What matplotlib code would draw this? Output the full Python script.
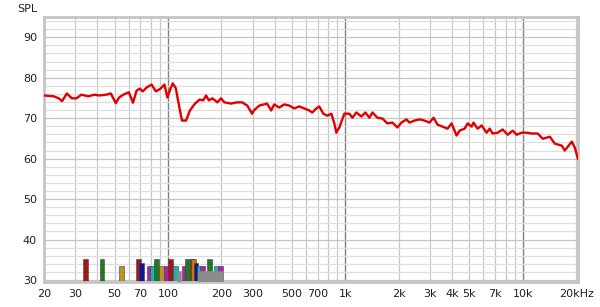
import numpy as np
import matplotlib
matplotlib.use('Agg')
import matplotlib.pyplot as plt
from matplotlib.ticker import FixedLocator, NullFormatter

# measured response (Hz, dB)
freq = [20, 22.7, 24.2, 25.3, 26.9, 28.7, 30.5, 32.5, 35.5, 38.5, 41, 45, 47.6,
        50.8, 53, 56, 60.2, 63.5, 66.5, 69.5, 72, 76, 80.8, 85.5, 90.8, 95.5,
        99.3, 103.6, 106.4, 110.7, 116.8, 120, 126.5, 133, 142, 151, 158, 164,
        170, 178, 190, 199, 208, 227, 244, 262, 280, 298, 305, 327, 362, 382,
        397, 424, 452, 483, 515, 550, 587, 626, 651, 686, 713, 751, 791, 834,
        867, 889, 925, 987, 1054, 1096, 1154, 1231, 1297, 1367, 1421, 1517,
        1618, 1727, 1843, 1967, 2071, 2211, 2300, 2454, 2619, 2795, 2983, 3142,
        3311, 3533, 3770, 3972, 4238, 4407, 4703, 4890, 5152, 5283, 5567, 5866,
        6260, 6510, 6770, 7224, 7709, 8227, 8780, 9250, 9870, 10530, 11240,
        12160, 12970, 14220, 15170, 16610, 17270, 18920, 19670, 20470]
spl = [75.6, 75.4, 74.9, 74.2, 76.1, 74.9, 74.9, 75.8, 75.4, 75.8, 75.6, 75.8, 76.1,
       73.7, 75.1, 75.8, 76.4, 73.8, 76.8, 77.3, 76.6, 77.6, 78.3, 76.6, 77.3, 78.3,
       75.1, 77.4, 78.6, 77.4, 71.9, 69.4, 69.4, 71.9, 73.6, 74.6, 74.4, 75.6,
       74.4, 74.9, 73.9, 74.9, 73.9, 73.6, 73.9, 73.9, 73.1, 71.1, 71.9, 73.1, 73.6, 71.9,
       73.4, 72.6, 73.4, 73.1, 72.4, 72.9, 72.4, 71.9, 71.4, 72.4, 72.9, 71.1, 70.6, 71.1,
       68.7, 66.4, 67.7, 71.1, 71.1, 70.1, 71.4, 70.4, 71.4, 70.1, 71.4, 70.1,
       69.9, 68.7, 68.9, 67.7, 68.9, 69.7, 68.9, 69.4, 69.7, 69.4, 68.9, 70.1,
       68.4, 67.9, 67.4, 68.7, 65.7, 66.9, 67.4, 68.7, 67.9, 68.9, 67.4, 68.2,
       66.4, 67.4, 66.2, 66.4, 67.2, 65.9, 66.9, 65.9, 66.4, 66.4, 66.2,
       66.2, 64.9, 65.4, 63.7, 63.2, 62.0, 64.2, 62.7, 60.0]

# mode markers at the bottom (Hz, top dB, colour)
mode_freq = [34.2, 42.5, 54.6, 67.9, 71.0, 78.3, 81.9, 86.4, 91.5, 98.1, 103.6,
             109.8, 124.3, 129.4, 136.5, 139.8, 143.9, 149.8, 155.7, 171.6, 188, 198]
mode_top = [35.2, 35.2, 33.5, 35.2, 34.3, 33.5, 33.5, 35.2, 33.5, 33.5, 35.2,
            33.5, 33.5, 35.2, 35.2, 35.2, 34.3, 33.5, 33.5, 35.2, 33.5, 33.5]
mode_col = ['#a01818', '#1e7a1e', '#b89420', '#a01818', '#141490', '#b020b0', '#20b0b0',
            '#1e7a1e', '#b89420', '#b020b0', '#a01818', '#20b0b0', '#b020b0', '#1e7a1e',
            '#a01818', '#d07010', '#141490', '#20b0b0', '#b020b0', '#1e7a1e', '#20b0b0', '#b020b0']
gray_freq = [115.4, 152, 160, 168, 177, 187, 197]
gray_top = [32.3, 32.2, 32.2, 32.2, 32.2, 32.2, 32.2]

xticks = [20, 30, 50, 70, 100, 200, 300, 500, 700, 1000, 2000, 3000, 4000, 5000,
          7000, 10000, 20000]
xlabels = ['20', '30', '50', '70', '100', '200', '300', '500', '700', '1k', '2k', '3k',
           '4k', '5k', '7k', '10k', '20kHz']
yticks = [30, 40, 50, 60, 70, 80, 90]

ymin, ymax = 29.5, 95.0

fig = plt.figure(figsize=(6.0, 3.07), dpi=100)
ax = fig.add_axes([44 / 600, 25 / 307, 534 / 600, 265 / 307])
ax.set_xscale('log')
ax.set_xlim(20, 20500)
ax.set_ylim(ymin, ymax)

# grid
minor_x = [f for d in (10, 100, 1000, 10000) for f in np.arange(2, 10) * d
           if 20 <= f <= 20000]
for f in minor_x:
    ax.axvline(f, color='#c8c8c8', lw=0.9, zorder=0)
for f in (100, 1000, 10000):
    ax.axvline(f, color='#808080', lw=1.0, zorder=0)
for y in np.arange(30, 96, 2):
    ax.axhline(y, color='#c4c4c4' if y % 10 == 0 else '#dedede', lw=0.9, zorder=0)

# modal bars
w = 1.032
for f, t, c in zip(mode_freq, mode_top, mode_col):
    ax.bar(f / w, t - ymin, width=f * w - f / w, bottom=ymin, align='edge',
           color=c, edgecolor='#404040', lw=0.4, zorder=2)
for f, t in zip(gray_freq, gray_top):
    ax.bar(f / w, t - ymin, width=f * w - f / w, bottom=ymin, align='edge',
           color='#8c8c8c', edgecolor='#8c8c8c', lw=0.4, zorder=3)

ax.plot(freq, spl, color='#e00000', lw=1.7, zorder=4)

ax.xaxis.set_major_locator(FixedLocator(xticks))
ax.set_xticklabels(xlabels)
ax.xaxis.set_minor_formatter(NullFormatter())
ax.set_yticks(yticks)
ax.tick_params(which='both', length=0, labelsize=8, colors='#202020')
ax.tick_params(axis='x', pad=5)
ax.tick_params(axis='y', pad=5)

for s in ax.spines.values():
    s.set_color('#c4c4c4')
    s.set_linewidth(2.0)

fig.text(17 / 600, 1 - 8.5 / 307, 'SPL', ha='left', va='center', fontsize=8,
         color='#202020')

fig.savefig('out.png', dpi=100)
